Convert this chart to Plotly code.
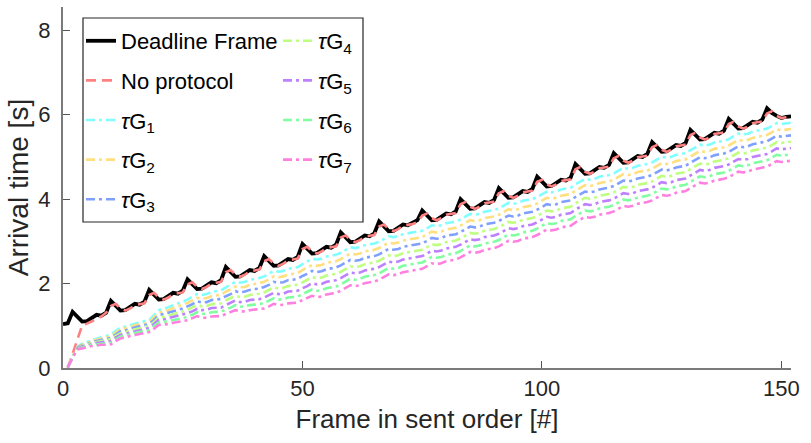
import plotly.graph_objects as go

# ---------------- data ----------------
frames_deadline = list(range(0, 153))
frames_other = list(range(1, 153))

deadline = [
    1.04, 1.06, 1.33, 1.20, 1.10, 1.11, 1.19, 1.26, 1.24, 1.31,
    1.59, 1.46, 1.36, 1.37, 1.45, 1.52, 1.50, 1.57,
    1.85, 1.72, 1.62, 1.63, 1.71, 1.78, 1.76, 1.83,
    2.10, 1.97, 1.87, 1.88, 1.96, 2.03, 2.01, 2.08,
    2.39, 2.26, 2.16, 2.17, 2.25, 2.32, 2.30, 2.37,
    2.65, 2.52, 2.42, 2.43, 2.51, 2.58, 2.56, 2.63,
    2.94, 2.81, 2.71, 2.72, 2.80, 2.87, 2.85, 2.92,
    3.21, 3.08, 2.98, 2.99, 3.07, 3.14, 3.12, 3.19,
    3.47, 3.34, 3.24, 3.25, 3.33, 3.40, 3.38, 3.45, 3.50,
    3.73, 3.60, 3.50, 3.51, 3.59, 3.66, 3.64, 3.71,
    4.00, 3.87, 3.77, 3.78, 3.86, 3.93, 3.91, 3.98,
    4.26, 4.13, 4.03, 4.04, 4.12, 4.19, 4.17, 4.24,
    4.53, 4.40, 4.30, 4.31, 4.39, 4.46, 4.44, 4.51,
    4.83, 4.70, 4.60, 4.61, 4.69, 4.76, 4.74, 4.81,
    5.09, 4.96, 4.86, 4.87, 4.95, 5.02, 5.00, 5.07,
    5.35, 5.22, 5.12, 5.13, 5.21, 5.28, 5.26, 5.33,
    5.64, 5.51, 5.41, 5.42, 5.50, 5.57, 5.55, 5.62,
    5.90, 5.77, 5.67, 5.68, 5.76, 5.83, 5.81, 5.88,
    6.15, 6.04, 5.97, 5.92, 5.95, 5.96,
]

no_protocol = [
    0.00, 0.34, 0.68, 1.01, 1.05, 1.10, 1.16, 1.22, 1.31,
    1.47, 1.52, 1.41, 1.36, 1.41, 1.49, 1.51, 1.53,
    1.73, 1.78, 1.67, 1.62, 1.67, 1.75, 1.77, 1.79,
    1.98, 2.03, 1.92, 1.87, 1.92, 2.00, 2.02, 2.04,
    2.27, 2.32, 2.21, 2.16, 2.21, 2.29, 2.31, 2.33,
    2.53, 2.58, 2.47, 2.42, 2.47, 2.55, 2.57, 2.59,
    2.82, 2.87, 2.76, 2.71, 2.76, 2.84, 2.86, 2.88,
    3.09, 3.14, 3.03, 2.98, 3.03, 3.11, 3.13, 3.15,
    3.35, 3.40, 3.29, 3.24, 3.29, 3.37, 3.39, 3.41, 3.45,
    3.61, 3.66, 3.55, 3.50, 3.55, 3.63, 3.65, 3.67,
    3.88, 3.93, 3.82, 3.77, 3.82, 3.90, 3.92, 3.94,
    4.14, 4.19, 4.08, 4.03, 4.08, 4.16, 4.18, 4.20,
    4.41, 4.46, 4.35, 4.30, 4.35, 4.43, 4.45, 4.47,
    4.71, 4.76, 4.65, 4.60, 4.65, 4.73, 4.75, 4.77,
    4.97, 5.02, 4.91, 4.86, 4.91, 4.99, 5.01, 5.03,
    5.23, 5.28, 5.17, 5.12, 5.17, 5.25, 5.27, 5.29,
    5.52, 5.57, 5.46, 5.41, 5.46, 5.54, 5.56, 5.58,
    5.78, 5.83, 5.72, 5.67, 5.72, 5.80, 5.82, 5.84,
    6.03, 6.08, 5.97, 5.92, 5.94, 5.96,
]

tau_g1 = [
    0.02, 0.28, 0.50, 0.58, 0.62, 0.66, 0.70, 0.73, 0.76, 0.79,
    0.88, 0.95, 0.98, 1.02, 1.05, 1.08, 1.11, 1.14, 1.25, 1.37,
    1.40, 1.44, 1.49, 1.53, 1.57, 1.62, 1.68, 1.75, 1.73, 1.75,
    1.80, 1.82, 1.84, 1.91, 1.97, 2.04, 2.02, 2.04, 2.09, 2.11,
    2.13, 2.17, 2.23, 2.30, 2.28, 2.30, 2.35, 2.37, 2.39, 2.46,
    2.52, 2.59, 2.57, 2.59, 2.64, 2.66, 2.68,
    2.73, 2.79, 2.86, 2.84, 2.86, 2.91, 2.93, 2.95,
    2.99, 3.05, 3.12, 3.10, 3.12, 3.17, 3.19, 3.21, 3.23,
    3.25, 3.31, 3.38, 3.36, 3.38, 3.43, 3.45, 3.47,
    3.52, 3.58, 3.65, 3.63, 3.65, 3.70, 3.72, 3.74,
    3.78, 3.84, 3.91, 3.89, 3.91, 3.96, 3.98, 4.00,
    4.05, 4.11, 4.18, 4.16, 4.18, 4.23, 4.25, 4.27,
    4.35, 4.41, 4.48, 4.46, 4.48, 4.53, 4.55, 4.57,
    4.61, 4.67, 4.74, 4.72, 4.74, 4.79, 4.81, 4.83,
    4.87, 4.93, 5.00, 4.98, 5.00, 5.05, 5.07, 5.09,
    5.16, 5.22, 5.29, 5.27, 5.29, 5.34, 5.36, 5.38,
    5.42, 5.48, 5.55, 5.53, 5.55, 5.60, 5.62, 5.64,
    5.67, 5.73, 5.80, 5.78, 5.80, 5.81,
]

tau_g2 = [
    0.02, 0.28, 0.49, 0.56, 0.60, 0.64, 0.67, 0.70, 0.73, 0.75,
    0.84, 0.91, 0.94, 0.98, 1.01, 1.03, 1.06, 1.09, 1.20, 1.31,
    1.34, 1.37, 1.42, 1.46, 1.49, 1.54, 1.60, 1.66, 1.64, 1.66,
    1.70, 1.72, 1.74, 1.81, 1.86, 1.93, 1.91, 1.92, 1.97, 1.99,
    2.01, 2.04, 2.10, 2.17, 2.15, 2.17, 2.21, 2.23, 2.25, 2.32,
    2.38, 2.44, 2.42, 2.44, 2.49, 2.51, 2.53,
    2.58, 2.64, 2.71, 2.69, 2.71, 2.76, 2.78, 2.80,
    2.84, 2.90, 2.97, 2.95, 2.97, 3.02, 3.04, 3.06, 3.08,
    3.10, 3.16, 3.23, 3.21, 3.23, 3.28, 3.30, 3.32,
    3.37, 3.43, 3.50, 3.48, 3.50, 3.55, 3.57, 3.59,
    3.63, 3.69, 3.76, 3.74, 3.76, 3.81, 3.83, 3.85,
    3.90, 3.96, 4.03, 4.01, 4.03, 4.08, 4.10, 4.12,
    4.20, 4.26, 4.33, 4.31, 4.33, 4.38, 4.40, 4.42,
    4.46, 4.52, 4.59, 4.57, 4.59, 4.64, 4.66, 4.68,
    4.72, 4.78, 4.85, 4.83, 4.85, 4.90, 4.92, 4.94,
    5.01, 5.07, 5.14, 5.12, 5.14, 5.19, 5.21, 5.23,
    5.27, 5.33, 5.40, 5.38, 5.40, 5.45, 5.47, 5.49,
    5.52, 5.58, 5.65, 5.63, 5.65, 5.66,
]

tau_g3 = [
    0.02, 0.27, 0.48, 0.54, 0.58, 0.61, 0.64, 0.67, 0.69, 0.71,
    0.80, 0.87, 0.89, 0.93, 0.96, 0.99, 1.02, 1.04, 1.14, 1.25,
    1.28, 1.31, 1.35, 1.38, 1.41, 1.46, 1.51, 1.58, 1.55, 1.56,
    1.61, 1.62, 1.64, 1.70, 1.75, 1.82, 1.79, 1.81, 1.85, 1.87,
    1.88, 1.92, 1.97, 2.04, 2.02, 2.03, 2.08, 2.09, 2.11, 2.18,
    2.23, 2.30, 2.27, 2.29, 2.34, 2.36, 2.38,
    2.43, 2.49, 2.56, 2.54, 2.56, 2.61, 2.63, 2.65,
    2.69, 2.75, 2.82, 2.80, 2.82, 2.87, 2.89, 2.91, 2.93,
    2.95, 3.01, 3.08, 3.06, 3.08, 3.13, 3.15, 3.17,
    3.22, 3.28, 3.35, 3.33, 3.35, 3.40, 3.42, 3.44,
    3.48, 3.54, 3.61, 3.59, 3.61, 3.66, 3.68, 3.70,
    3.75, 3.81, 3.88, 3.86, 3.88, 3.93, 3.95, 3.97,
    4.05, 4.11, 4.18, 4.16, 4.18, 4.23, 4.25, 4.27,
    4.31, 4.37, 4.44, 4.42, 4.44, 4.49, 4.51, 4.53,
    4.57, 4.63, 4.70, 4.68, 4.70, 4.75, 4.77, 4.79,
    4.86, 4.92, 4.99, 4.97, 4.99, 5.04, 5.06, 5.08,
    5.12, 5.18, 5.25, 5.23, 5.25, 5.30, 5.32, 5.34,
    5.37, 5.43, 5.50, 5.48, 5.50, 5.51,
]

tau_g4 = [
    0.02, 0.27, 0.47, 0.53, 0.56, 0.59, 0.62, 0.64, 0.66, 0.68,
    0.76, 0.82, 0.85, 0.89, 0.92, 0.94, 0.97, 1.00, 1.09, 1.20,
    1.21, 1.24, 1.28, 1.31, 1.34, 1.38, 1.43, 1.49, 1.46, 1.47,
    1.51, 1.52, 1.53, 1.60, 1.65, 1.71, 1.68, 1.69, 1.73, 1.74,
    1.76, 1.79, 1.85, 1.91, 1.88, 1.90, 1.94, 1.96, 1.97, 2.03,
    2.09, 2.15, 2.13, 2.14, 2.19, 2.21, 2.23,
    2.28, 2.34, 2.41, 2.39, 2.41, 2.46, 2.48, 2.50,
    2.54, 2.60, 2.67, 2.65, 2.67, 2.72, 2.74, 2.76, 2.78,
    2.80, 2.86, 2.93, 2.91, 2.93, 2.98, 3.00, 3.02,
    3.07, 3.13, 3.20, 3.18, 3.20, 3.25, 3.27, 3.29,
    3.33, 3.39, 3.46, 3.44, 3.46, 3.51, 3.53, 3.55,
    3.60, 3.66, 3.73, 3.71, 3.73, 3.78, 3.80, 3.82,
    3.90, 3.96, 4.03, 4.01, 4.03, 4.08, 4.10, 4.12,
    4.16, 4.22, 4.29, 4.27, 4.29, 4.34, 4.36, 4.38,
    4.42, 4.48, 4.55, 4.53, 4.55, 4.60, 4.62, 4.64,
    4.71, 4.77, 4.84, 4.82, 4.84, 4.89, 4.91, 4.93,
    4.97, 5.03, 5.10, 5.08, 5.10, 5.15, 5.17, 5.19,
    5.22, 5.28, 5.35, 5.33, 5.35, 5.36,
]

tau_g5 = [
    0.02, 0.26, 0.46, 0.51, 0.54, 0.56, 0.59, 0.61, 0.62, 0.64,
    0.72, 0.78, 0.81, 0.84, 0.87, 0.90, 0.92, 0.95, 1.04, 1.14,
    1.15, 1.18, 1.21, 1.23, 1.26, 1.30, 1.34, 1.40, 1.37, 1.38,
    1.42, 1.42, 1.43, 1.49, 1.54, 1.60, 1.56, 1.57, 1.61, 1.62,
    1.63, 1.67, 1.72, 1.78, 1.75, 1.76, 1.81, 1.82, 1.83, 1.89,
    1.94, 2.01, 1.98, 1.99, 2.04, 2.06, 2.08,
    2.13, 2.19, 2.26, 2.24, 2.26, 2.31, 2.33, 2.35,
    2.39, 2.45, 2.52, 2.50, 2.52, 2.57, 2.59, 2.61, 2.63,
    2.65, 2.71, 2.78, 2.76, 2.78, 2.83, 2.85, 2.87,
    2.92, 2.98, 3.05, 3.03, 3.05, 3.10, 3.12, 3.14,
    3.18, 3.24, 3.31, 3.29, 3.31, 3.36, 3.38, 3.40,
    3.45, 3.51, 3.58, 3.56, 3.58, 3.63, 3.65, 3.67,
    3.75, 3.81, 3.88, 3.86, 3.88, 3.93, 3.95, 3.97,
    4.01, 4.07, 4.14, 4.12, 4.14, 4.19, 4.21, 4.23,
    4.27, 4.33, 4.40, 4.38, 4.40, 4.45, 4.47, 4.49,
    4.56, 4.62, 4.69, 4.67, 4.69, 4.74, 4.76, 4.78,
    4.82, 4.88, 4.95, 4.93, 4.95, 5.00, 5.02, 5.04,
    5.07, 5.13, 5.20, 5.18, 5.20, 5.21,
]

tau_g6 = [
    0.02, 0.26, 0.45, 0.49, 0.52, 0.54, 0.56, 0.58, 0.59, 0.60,
    0.68, 0.74, 0.77, 0.80, 0.83, 0.85, 0.88, 0.90, 0.99, 1.08,
    1.09, 1.11, 1.14, 1.16, 1.18, 1.22, 1.26, 1.32, 1.28, 1.29,
    1.32, 1.33, 1.33, 1.39, 1.43, 1.49, 1.45, 1.46, 1.49, 1.50,
    1.51, 1.54, 1.59, 1.65, 1.62, 1.63, 1.67, 1.68, 1.69, 1.75,
    1.80, 1.86, 1.83, 1.84, 1.89, 1.91, 1.93,
    1.98, 2.04, 2.11, 2.09, 2.11, 2.16, 2.18, 2.20,
    2.24, 2.30, 2.37, 2.35, 2.37, 2.42, 2.44, 2.46, 2.48,
    2.50, 2.56, 2.63, 2.61, 2.63, 2.68, 2.70, 2.72,
    2.77, 2.83, 2.90, 2.88, 2.90, 2.95, 2.97, 2.99,
    3.03, 3.09, 3.16, 3.14, 3.16, 3.21, 3.23, 3.25,
    3.30, 3.36, 3.43, 3.41, 3.43, 3.48, 3.50, 3.52,
    3.60, 3.66, 3.73, 3.71, 3.73, 3.78, 3.80, 3.82,
    3.86, 3.92, 3.99, 3.97, 3.99, 4.04, 4.06, 4.08,
    4.12, 4.18, 4.25, 4.23, 4.25, 4.30, 4.32, 4.34,
    4.41, 4.47, 4.54, 4.52, 4.54, 4.59, 4.61, 4.63,
    4.67, 4.73, 4.80, 4.78, 4.80, 4.85, 4.87, 4.89,
    4.92, 4.98, 5.05, 5.03, 5.05, 5.06,
]

tau_g7 = [
    0.02, 0.25, 0.44, 0.47, 0.50, 0.52, 0.53, 0.55, 0.55, 0.56,
    0.64, 0.70, 0.72, 0.76, 0.78, 0.80, 0.83, 0.85, 0.93, 1.02,
    1.03, 1.04, 1.07, 1.09, 1.10, 1.13, 1.18, 1.23, 1.19, 1.19,
    1.22, 1.23, 1.23, 1.28, 1.32, 1.37, 1.34, 1.34, 1.37, 1.38,
    1.39, 1.41, 1.46, 1.52, 1.49, 1.50, 1.53, 1.54, 1.55, 1.61,
    1.66, 1.71, 1.68, 1.69, 1.74, 1.76, 1.78,
    1.83, 1.89, 1.96, 1.94, 1.96, 2.01, 2.03, 2.05,
    2.09, 2.15, 2.22, 2.20, 2.22, 2.27, 2.29, 2.31, 2.33,
    2.35, 2.41, 2.48, 2.46, 2.48, 2.53, 2.55, 2.57,
    2.62, 2.68, 2.75, 2.73, 2.75, 2.80, 2.82, 2.84,
    2.88, 2.94, 3.01, 2.99, 3.01, 3.06, 3.08, 3.10,
    3.15, 3.21, 3.28, 3.26, 3.28, 3.33, 3.35, 3.37,
    3.45, 3.51, 3.58, 3.56, 3.58, 3.63, 3.65, 3.67,
    3.71, 3.77, 3.84, 3.82, 3.84, 3.89, 3.91, 3.93,
    3.97, 4.03, 4.10, 4.08, 4.10, 4.15, 4.17, 4.19,
    4.26, 4.32, 4.39, 4.37, 4.39, 4.44, 4.46, 4.48,
    4.52, 4.58, 4.65, 4.63, 4.65, 4.70, 4.72, 4.74,
    4.77, 4.83, 4.90, 4.88, 4.90, 4.91,
]

x_ticks = [0, 50, 100, 150]
y_ticks = [0, 2, 4, 6, 8]

tau_series = [tau_g1, tau_g2, tau_g3, tau_g4, tau_g5, tau_g6, tau_g7]
tau_names = ["<i>\u03c4</i>G<sub>%d</sub>" % i for i in range(1, 8)]
tau_colors = ["#80FFFF", "#FFDF80", "#80A0FF", "#BFFF80",
              "#BF80FF", "#80FFA0", "#FF80DF"]

# ---------------- figure ----------------
FONT = "Liberation Sans, Arial, Helvetica, sans-serif"
fig = go.Figure()

fig.add_trace(go.Scatter(
    x=frames_deadline, y=deadline, mode="lines", name="Deadline Frame",
    line=dict(color="black", width=3.8), legend="legend",
    legendgroup="d", legendrank=1))
fig.add_trace(go.Scatter(
    x=frames_other, y=no_protocol, mode="lines", name="No protocol",
    line=dict(color="#FF8080", width=2.6, dash="10px,6px"), legend="legend",
    legendgroup="n", legendrank=2))
for i, (ys, nm, col) in enumerate(zip(tau_series, tau_names, tau_colors)):
    fig.add_trace(go.Scatter(
        x=frames_other, y=ys, mode="lines", name=nm,
        line=dict(color=col, width=2.6, dash="9px,4px,3px,4px"),
        legend="legend" if i < 3 else "legend2",
        legendgroup="t%d" % i, legendrank=3 + i))

W, H = 811, 443
L, R, T, B = 63, 20, 7, 75
pw, ph = W - L - R, H - T - B


def px2x(px):
    return (px - L) / pw


def py2y(py):
    return (H - B - py) / ph


legend_common = dict(
    bgcolor="rgba(0,0,0,0)", borderwidth=0, font=dict(family=FONT, size=22, color="black"),
    tracegroupgap=8, yanchor="top", xanchor="left", itemwidth=30,
)

fig.update_layout(
    width=W, height=H,
    margin=dict(l=L, r=R, t=T, b=B),
    plot_bgcolor="white", paper_bgcolor="white",
    font=dict(family=FONT, color="#262626"),
    showlegend=True,
    legend=dict(x=px2x(81), y=py2y(20), **legend_common),
    legend2=dict(x=px2x(278), y=py2y(20), **legend_common),
    xaxis=dict(
        range=[0, 152], tickvals=x_ticks, ticks="inside", ticklen=7,
        tickcolor="#555555", showline=True, linecolor="#7a7a7a", linewidth=2,
        showgrid=False, zeroline=False, tickfont=dict(size=22, color="#262626"),
        title=dict(text="Frame in sent order [#]", font=dict(size=26, color="#262626"), standoff=9),
        ticklabelstandoff=0,
    ),
    yaxis=dict(
        range=[0, 8.55], tickvals=y_ticks, ticks="inside", ticklen=7,
        tickcolor="#555555", showline=True, linecolor="#7a7a7a", linewidth=2,
        showgrid=False, zeroline=False, tickfont=dict(size=22, color="#262626"),
        title=dict(text="Arrival time [s]", font=dict(size=28, color="#262626"), standoff=2),
        ticklabelstandoff=6,
    ),
    shapes=[dict(
        type="rect", xref="paper", yref="paper",
        x0=px2x(83), x1=px2x(363), y0=py2y(222), y1=py2y(18),
        line=dict(color="#262626", width=1.2), fillcolor="white", layer="above",
    )],
)

fig.write_html("out.html")
